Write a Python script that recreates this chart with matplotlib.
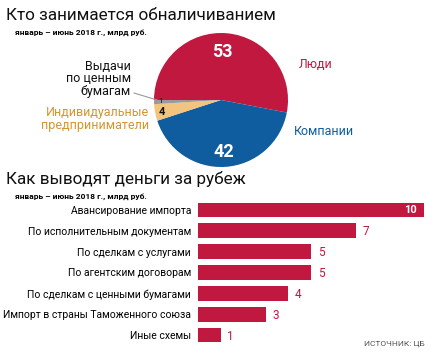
import matplotlib.pyplot as plt

pie_labels = ["Люди", "Компании", "Индивидуальные\nпредприниматели", "Выдачи\nпо ценным\nбумагам"]
pie_values = [53, 42, 4, 1]
pie_colors = ["#C1183F", "#0F5C9F", "#F3C47E", "#9A9A9A"]

bar_labels = ["Авансирование импорта", "По исполнительным документам",
              "По сделкам с услугами", "По агентским договорам",
              "По сделкам с ценными бумагами", "Импорт в страны Таможенного союза",
              "Иные схемы"]
bar_values = [10, 7, 5, 5, 4, 3, 1]

RED = "#C1183F"
W, H = 435, 353


def fx(px):
    return px / W


def fy(py):
    return 1 - py / H


def main() -> None:
    plt.rcParams['font.family'] = ['Roboto', 'DejaVu Sans']
    fig = plt.figure(figsize=(W / 100, H / 100), dpi=100)

    # titles
    fig.text(fx(6), fy(16), "Кто занимается обналичиванием", fontsize=12.3,
             va="center", color="#111111")
    fig.text(fx(15), fy(33), "январь – июнь 2018 г., млрд руб.", fontsize=6,
             fontweight="bold", va="center")
    fig.text(fx(6), fy(179), "Как выводят деньги за рубеж", fontsize=12.3,
             va="center", color="#111111")
    fig.text(fx(15), fy(196), "январь – июнь 2018 г., млрд руб.", fontsize=6,
             fontweight="bold", va="center")

    # pie
    cx, cy, r = 221, 100, 67
    pax = fig.add_axes([fx(cx - r), fy(cy + r), 2 * r / W, 2 * r / H])
    pax.pie(pie_values, colors=pie_colors, startangle=180,
            counterclock=False, radius=1, wedgeprops=dict(linewidth=0))
    pax.set_xlim(-1, 1)
    pax.set_ylim(-1, 1)
    pax.set_aspect("equal")
    pax.axis("off")
    pax.text(0.02, 0.72, str(pie_values[0]), color="white", fontsize=13,
             fontweight="bold", ha="center", va="center")
    pax.text(0.04, -0.78, str(pie_values[1]), color="white", fontsize=13,
             fontweight="bold", ha="center", va="center")
    pax.text(-0.88, -0.18, str(pie_values[2]), color="#111111", fontsize=8,
             fontweight="bold", ha="center", va="center")
    pax.text(-0.9, -0.02, str(pie_values[3]), color="#111111", fontsize=6,
             ha="center", va="center")

    fig.text(fx(299), fy(65), pie_labels[0], color=RED, fontsize=9, va="center")
    fig.text(fx(294), fy(132), pie_labels[1], color="#0F5C9F", fontsize=9, va="center")
    fig.text(fx(149), fy(119), pie_labels[2], color="#D4952F", fontsize=9,
             ha="right", va="center", linespacing=1.0)
    fig.text(fx(131), fy(79), pie_labels[3], color="#111111", fontsize=9,
             ha="right", va="center", linespacing=1.0)
    fig.add_artist(plt.Line2D([fx(134), fx(157)], [fy(93), fy(100)],
                              color="#9A9A9A", linewidth=0.8))

    # bars
    bax = fig.add_axes([fx(198), fy(345.5), 226 / W, 146 / H])
    ypos = list(range(len(bar_values)))
    bax.barh(ypos, bar_values, height=0.7, color=RED)
    bax.set_xlim(0, 10)
    bax.set_ylim(len(bar_values) - 0.5, -0.5)
    bax.set_yticks(ypos)
    bax.set_yticklabels(bar_labels, fontsize=7.5)
    bax.tick_params(axis="y", length=0, pad=5)
    bax.set_xticks([])
    for s in bax.spines.values():
        s.set_visible(False)
    for i, v in enumerate(bar_values):
        if v >= 10:
            bax.text(v - 0.3, i, str(v), color="white", fontsize=8,
                     fontweight="bold", ha="right", va="center")
        else:
            bax.text(v + 0.3, i + 0.05, str(v), color=RED, fontsize=8.5,
                     ha="left", va="center")

    fig.text(fx(425), fy(344), "ИСТОЧНИК: ЦБ", color="#555555", fontsize=6,
             ha="right", va="center")

    fig.savefig("out.png", dpi=100)


if __name__ == "__main__":
    main()
